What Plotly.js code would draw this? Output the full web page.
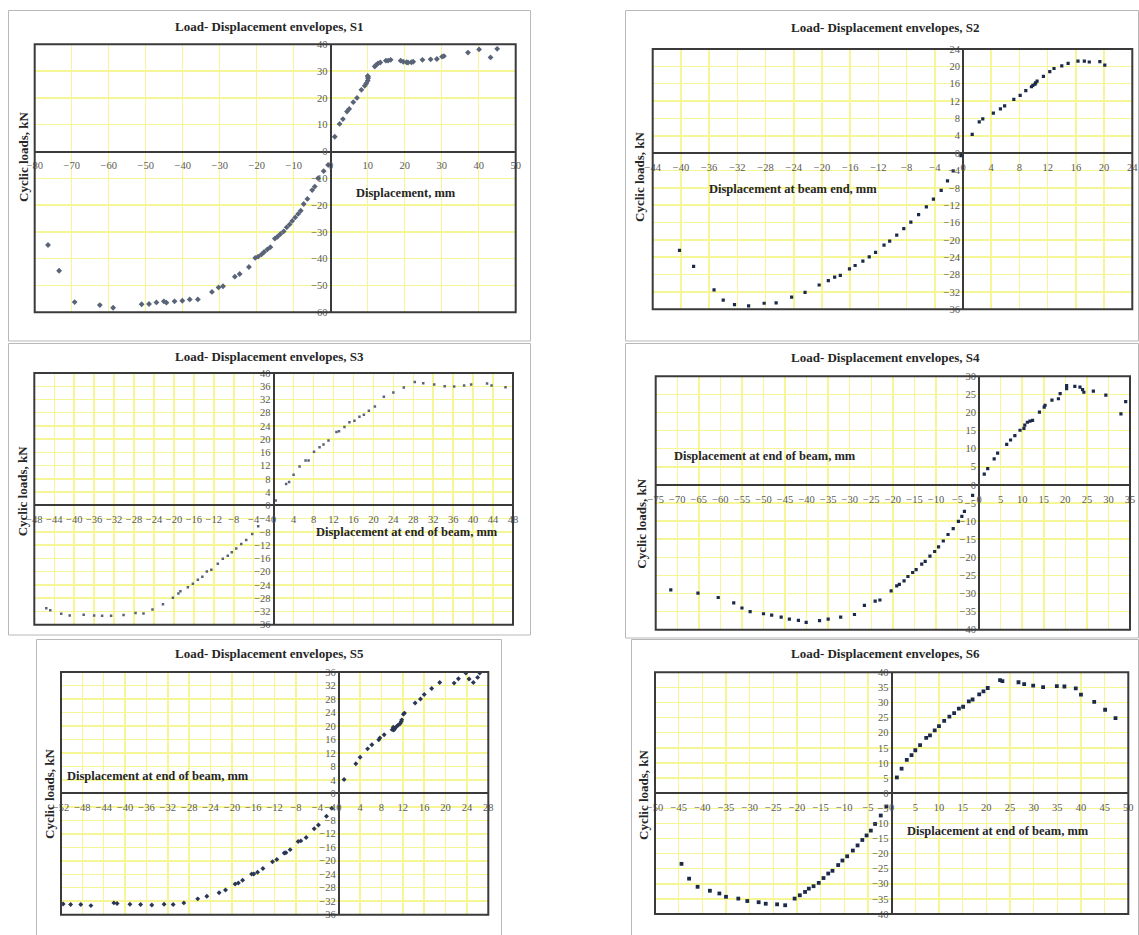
<!DOCTYPE html>
<html>
<head>
<meta charset="utf-8">
<script src="https://cdn.plot.ly/plotly-3.0.1.min.js"></script>
<style>html,body{margin:0;padding:0;background:#fff;}#chart{width:1139px;height:935px;}</style>
</head>
<body>
<div id="chart"></div>
<script>
// ---------------- DATA ----------------
const s1_x = [-76.4,-73.4,-69.2,-62.4,-58.8,-51.1,-49.1,-47.1,-45.1,-44.4,-42.2,-40.1,-38.1,-35.9,-32.1,-30.3,-29.1,-25.9,-24.6,-22.1,-20.4,-19.6,-18.7,-18.0,-17.1,-16.3,-15.1,-14.4,-13.6,-12.7,-11.9,-11.1,-10.4,-9.6,-8.8,-8.1,-7.3,-6.3,-5.0,-4.3,-3.4,-1.9,-0.7,
  1.1,2.4,3.3,4.4,5.0,6.1,7.1,8.3,9.2,9.6,10.0,10.1,10.1,10.0,11.9,12.3,12.8,13.4,14.9,15.5,16.2,18.9,19.6,20.5,20.9,21.8,22.3,24.8,27.0,28.7,30.1,30.6,37.1,40.1,43.2,45.0];
const s1_y = [-34.9,-44.5,-56.2,-57.3,-58.3,-57.0,-56.9,-56.3,-55.9,-56.4,-55.9,-55.7,-55.2,-55.2,-52.4,-50.7,-50.3,-46.7,-45.7,-43.1,-39.7,-39.2,-38.4,-37.5,-36.5,-35.7,-32.5,-31.8,-30.8,-29.8,-28.3,-27.2,-25.9,-24.6,-23.3,-22.1,-19.6,-17.7,-14.4,-13.1,-10.0,-7.3,-5.0,
  5.5,10.3,12.1,14.9,15.9,18.4,20.0,23.0,24.5,25.4,26.4,27.3,27.9,28.2,31.7,32.3,32.9,33.2,33.9,33.9,34.2,33.9,33.5,33.3,33.2,33.3,33.5,34.2,34.4,34.5,35.4,35.6,36.9,38.1,35.1,38.3];

const s2_x = [-40.2,-38.2,-35.3,-34.0,-32.4,-30.4,-28.2,-26.5,-24.3,-22.4,-20.4,-19.1,-18.2,-17.4,-16.1,-15.3,-14.2,-13.3,-12.4,-11.2,-10.4,-9.4,-8.4,-7.4,-6.3,-5.2,-4.2,-3.1,-2.2,-1.4,-0.3,
  1.3,2.3,2.8,4.3,5.3,5.9,7.2,8.1,8.9,9.7,9.9,10.2,10.3,10.5,11.4,12.3,12.9,14.0,14.9,16.3,17.2,17.9,19.4,20.1];
const s2_y = [-22.4,-26.1,-31.5,-33.9,-34.9,-35.2,-34.6,-34.5,-33.2,-32.1,-30.4,-29.4,-28.6,-28.2,-26.7,-25.9,-24.9,-23.9,-22.9,-21.2,-20.3,-18.9,-17.4,-15.9,-14.2,-12.4,-10.6,-8.6,-6.4,-4.1,-0.6,
  4.3,7.2,7.9,9.2,10.2,10.9,12.4,13.3,14.4,15.3,15.6,15.9,16.2,16.6,17.7,18.8,19.5,20.1,20.7,21.2,21.2,21.0,21.1,20.3];

const s3_x = [-45.6,-44.8,-42.6,-40.9,-38.1,-36.0,-34.4,-32.6,-30.1,-27.7,-26.1,-24.3,-22.2,-20.2,-19.1,-18.7,-17.2,-16.2,-15.2,-14.3,-13.4,-12.5,-11.2,-10.2,-9.2,-8.4,-7.5,-6.5,-5.5,-4.3,-3.1,
  0.4,2.5,3.1,4.0,5.2,6.4,7.0,8.1,9.2,10.0,11.0,12.6,13.1,14.2,15.2,16.2,17.2,18.1,19.1,20.3,22.1,24.0,26.1,28.3,30.0,32.2,34.3,36.2,38.2,39.6,42.8,43.7,46.5];
const s3_y = [-31.0,-31.6,-32.7,-33.2,-33.0,-33.2,-33.3,-33.3,-33.1,-32.5,-32.6,-31.4,-29.8,-27.9,-26.6,-25.9,-24.7,-23.6,-22.4,-21.5,-19.9,-19.4,-17.6,-16.1,-15.2,-14.1,-13.0,-11.6,-10.4,-8.6,-6.3,
  1.5,6.5,7.1,9.3,11.8,13.6,13.6,16.2,17.6,18.4,19.6,22.2,22.4,23.7,25.1,25.6,26.8,27.4,28.6,29.9,32.8,34.1,35.6,37.3,36.9,36.5,36.0,35.9,36.2,36.5,36.8,36.2,35.7];

const s4_x = [-71.5,-65.2,-60.5,-56.9,-55.0,-53.1,-50.0,-48.1,-45.9,-44.0,-41.9,-40.1,-37.0,-35.0,-32.1,-28.9,-26.6,-24.1,-23.0,-20.4,-19.1,-18.5,-17.4,-16.5,-15.4,-14.6,-13.3,-12.5,-11.4,-10.3,-9.4,-8.3,-7.2,-6.0,-4.8,-4.0,-3.4,-1.5,
  1.2,2.0,3.5,4.3,6.4,7.3,8.3,9.5,10.4,10.6,11.2,11.8,12.4,14.0,15.1,15.3,16.9,18.4,18.8,20.3,20.3,22.2,23.4,24.0,24.3,26.5,29.4,32.9,34.0];
const s4_y = [-29.0,-29.9,-31.1,-32.6,-34.0,-35.0,-35.6,-36.0,-36.5,-37.1,-37.4,-38.0,-37.5,-37.1,-36.5,-35.8,-33.3,-32.1,-31.8,-29.3,-27.9,-27.5,-26.5,-25.3,-24.2,-23.4,-21.9,-21.1,-19.7,-18.4,-17.1,-15.5,-13.7,-12.1,-10.1,-8.7,-7.3,-2.9,
  3.0,4.5,7.2,8.8,11.2,12.4,13.6,15.1,15.6,16.5,17.3,17.6,17.8,20.1,21.5,22.0,23.4,23.8,25.2,26.6,27.4,27.2,27.0,26.3,25.6,25.9,24.8,19.6,23.0];

const s5_x = [-51.6,-50.2,-48.3,-46.4,-42.1,-41.5,-39.1,-37.1,-35.0,-32.7,-31.0,-29.0,-26.4,-24.7,-22.4,-21.2,-19.4,-18.8,-18.0,-16.3,-15.9,-15.2,-14.2,-12.4,-11.6,-10.2,-9.9,-9.1,-7.6,-7.1,-6.1,-4.6,-3.8,-2.3,-1.3,
  1.0,3.2,4.0,5.4,6.2,7.5,7.7,8.5,10.0,10.2,10.3,10.5,10.8,11.1,11.5,11.7,11.8,12.1,12.3,14.3,15.3,16.0,17.4,18.9,21.6,22.4,23.8,24.4,25.2,26.0,26.4];
const s5_y = [-32.8,-33.0,-33.0,-33.3,-32.5,-32.7,-32.9,-33.0,-33.1,-32.9,-33.0,-32.5,-31.3,-30.5,-29.5,-28.7,-26.9,-26.6,-25.8,-23.9,-23.9,-23.4,-22.3,-20.3,-19.6,-17.7,-17.6,-16.7,-14.3,-14.1,-13.1,-10.5,-9.4,-6.8,-4.4,
  4.1,8.8,10.7,13.2,14.4,15.9,16.4,17.4,18.9,19.6,18.8,19.2,19.8,20.2,20.7,21.3,21.8,23.5,23.8,26.8,28.0,29.3,31.1,32.9,32.7,34.0,35.7,33.9,32.9,34.4,35.7];

const s6_x = [-44.4,-42.8,-41.0,-38.4,-36.4,-35.0,-32.4,-30.5,-28.1,-26.6,-24.2,-22.5,-20.5,-19.4,-18.3,-17.5,-16.5,-15.4,-14.4,-13.4,-12.5,-11.3,-10.4,-9.4,-8.2,-7.2,-6.2,-5.3,-4.4,-3.5,-2.3,-1.1,
  1.1,2.1,3.2,4.2,5.0,6.0,7.3,8.1,9.1,10.0,11.1,12.2,13.2,14.2,15.1,16.3,17.1,18.5,19.4,20.3,22.9,23.4,26.8,28.0,29.9,32.0,34.9,36.5,38.9,40.0,42.8,45.1,47.3];
const s6_y = [-23.4,-28.3,-31.0,-32.3,-33.2,-34.3,-34.9,-35.7,-36.1,-36.6,-36.8,-37.1,-34.9,-33.8,-32.7,-31.6,-30.8,-29.7,-28.1,-26.6,-25.7,-23.8,-22.3,-20.9,-19.0,-17.3,-15.5,-14.0,-12.4,-10.2,-7.4,-4.4,
  5.2,8.1,11.0,12.6,14.2,15.9,18.3,19.1,20.8,22.2,23.9,25.3,26.5,28.0,28.6,30.4,31.0,32.7,33.7,34.8,37.4,37.1,36.7,36.1,35.6,35.1,35.4,35.3,34.7,32.6,30.2,27.6,24.8];

const panel_titles = ['Load- Displacement envelopes, S1','Load- Displacement envelopes, S2','Load- Displacement envelopes, S3',
                      'Load- Displacement envelopes, S4','Load- Displacement envelopes, S5','Load- Displacement envelopes, S6'];
const x_titles = ['Displacement, mm','Displacement at beam end, mm','Displacement at end of beam, mm',
                  'Displacement at end of beam, mm','Displacement at end of beam, mm','Displacement at end of beam, mm'];
const y_title = 'Cyclic loads, kN';

// ---------------- LAYOUT CONFIG (pixels in the 1139x935 page) ----------------
const W = 1139, H = 935;
const panels = [
  {xs:s1_x, ys:s1_y, box:[34.7,44.3,515.7,312.3], xr:[-80,50], yr:[-60,40], dt:[10,10], tXY:[269,26],  ytXY:[23,157],    xtXY:[406,193],   frame:[8.5,10.5,530.5,341], mk:{symbol:'diamond',size:4.5,color:'#5a6478'}},
  {xs:s2_x, ys:s2_y, box:[652.7,49,1132.3,309.3], xr:[-44,24], yr:[-36,24], dt:[4,4], tXY:[885.7,28], ytXY:[639.3,176.7], xtXY:[793.3,189], frame:[625.5,10.5,1138.5,341], mk:{symbol:'square',size:3.2,color:'#1c2a4a'}},
  {xs:s3_x, ys:s3_y, box:[34.3,373,513,624.7], xr:[-48,48], yr:[-36,40], dt:[4,4], tXY:[269,356.3], ytXY:[22,491.3], xtXY:[407,532], frame:[8.5,343.5,530.5,635], mk:{symbol:'square',size:2.5,color:'#5a6478'}},
  {xs:s4_x, ys:s4_y, box:[655.7,376.3,1130,629.7], xr:[-75,35], yr:[-40,30], dt:[5,5], tXY:[885.7,358], ytXY:[640.7,523], xtXY:[765,456.3], frame:[625.5,343.5,1138.5,638], mk:{symbol:'square',size:3.2,color:'#1c2a4a'}},
  {xs:s5_x, ys:s5_y, box:[61,672,488.3,914.7], xr:[-52,28], yr:[-36,36], dt:[4,4], tXY:[269,653.7], ytXY:[49,794], xtXY:[158.3,775.7], frame:[36.5,639.5,501.5,940], mk:{symbol:'diamond',size:3.8,color:'#2a3656'}},
  {xs:s6_x, ys:s6_y, box:[655,672.3,1128.3,914], xr:[-50,50], yr:[-40,40], dt:[5,5], tXY:[885.7,653.7], ytXY:[643.3,794.7], xtXY:[997.7,831.3], frame:[631.5,639.5,1138.5,940], mk:{symbol:'square',size:3.8,color:'#1c2a4a'}}
];

const FONT = 'Liberation Serif, Times New Roman, serif';
const GRID = 'rgb(246,246,150)';
const AXIS = '#3a3a3a';

const traces = [];
const layout = {
  width: W, height: H,
  margin: {l:0, r:0, t:0, b:0},
  paper_bgcolor: '#ffffff', plot_bgcolor: '#ffffff',
  showlegend: false,
  font: {family: FONT, size: 10, color: '#595959'},
  annotations: [], shapes: []
};

const fx = p => p / W;
const fy = p => 1 - p / H;

panels.forEach((p, i) => {
  const n = i + 1;
  const xk = n === 1 ? 'x' : 'x' + n;
  const yk = n === 1 ? 'y' : 'y' + n;
  const xd = [fx(p.box[0]), fx(p.box[2])];
  const yd = [fy(p.box[3]), fy(p.box[1])];
  // axis crossing positions (paper fractions) of the zero lines
  const xPos = yd[0] + (0 - p.yr[0]) / (p.yr[1] - p.yr[0]) * (yd[1] - yd[0]);
  const yPos = xd[0] + (0 - p.xr[0]) / (p.xr[1] - p.xr[0]) * (xd[1] - xd[0]);

  traces.push({
    type: 'scatter', mode: 'markers', x: p.xs, y: p.ys,
    xaxis: xk, yaxis: yk,
    marker: {symbol: p.mk.symbol, size: p.mk.size, color: p.mk.color, line: {width: 0}},
    hoverinfo: 'x+y'
  });

  const axKeyX = n === 1 ? 'xaxis' : 'xaxis' + n;
  const axKeyY = n === 1 ? 'yaxis' : 'yaxis' + n;
  layout[axKeyX] = {
    domain: xd, range: p.xr, dtick: p.dt[0], tick0: 0, autorange: false,
    anchor: 'free', position: xPos, side: 'bottom',
    showgrid: true, gridcolor: GRID, gridwidth: 1.5,
    zeroline: false, showline: true, linecolor: AXIS, linewidth: 2,
    ticks: '', ticklabelstandoff: 4, tickfont: {family: FONT, size: 10.5, color: '#595959'},
    fixedrange: true
  };
  layout[axKeyY] = {
    domain: yd, range: p.yr, dtick: p.dt[1], tick0: 0, autorange: false,
    anchor: 'free', position: yPos, side: 'left',
    showgrid: true, gridcolor: GRID, gridwidth: 1.5,
    zeroline: false, showline: true, linecolor: AXIS, linewidth: 2,
    ticks: '', tickfont: {family: FONT, size: 10.5, color: '#595959'},
    fixedrange: true
  };

  // plot-area frame
  layout.shapes.push({type:'rect', xref: xk + ' domain', yref: yk + ' domain', x0:0, x1:1, y0:0, y1:1,
                      line:{color: AXIS, width: 2}, fillcolor:'rgba(0,0,0,0)', layer:'above'});
  // panel (chart area) frame
  layout.shapes.push({type:'rect', xref:'paper', yref:'paper',
                      x0: fx(p.frame[0]), x1: fx(p.frame[2]), y0: fy(p.frame[3]), y1: fy(p.frame[1]),
                      line:{color:'#b8b8b8', width:1}, fillcolor:'rgba(0,0,0,0)', layer:'below'});

  // chart title
  layout.annotations.push({xref:'paper', yref:'paper', x: fx(p.tXY[0]), y: fy(p.tXY[1]),
    text: panel_titles[i], showarrow:false, xanchor:'center', yanchor:'middle',
    font:{family: FONT, size: 13, color:'#262626', weight:'bold'}});
  // y axis title
  layout.annotations.push({xref:'paper', yref:'paper', x: fx(p.ytXY[0]), y: fy(p.ytXY[1]),
    text: y_title, textangle: -90, showarrow:false, xanchor:'center', yanchor:'middle',
    font:{family: FONT, size: 13, color:'#262626', weight:'bold'}});
  // x axis title (placed inside plot area)
  layout.annotations.push({xref:'paper', yref:'paper', x: fx(p.xtXY[0]), y: fy(p.xtXY[1]),
    text: x_titles[i], showarrow:false, xanchor:'center', yanchor:'middle',
    font:{family: FONT, size: 12.5, color:'#262626', weight:'bold'}});
});

Plotly.newPlot('chart', traces, layout, {staticPlot: true, displayModeBar: false});
</script>
</body>
</html>
